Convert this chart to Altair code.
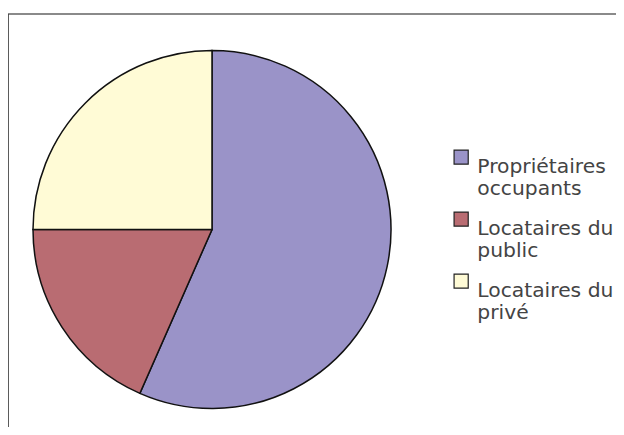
import altair as alt
import pandas as pd

categories = ["Propriétaires occupants", "Locataires du public", "Locataires du privé"]
label_lines = ["Propriétaires\noccupants", "Locataires du\npublic", "Locataires du\nprivé"]
shares = [56.6, 18.4, 25.0]
colors = ["#9A93C8", "#B96C72", "#FFFBD6"]

df = pd.DataFrame({
    "cat": categories,
    "share": shares,
    "idx": list(range(len(categories))),
})

label_map = "{" + ",".join(f"'{c}': '{l}'" for c, l in zip(categories, label_lines)).replace("\n", "\\n") + "}"

pie = alt.Chart(df).mark_arc(
    outerRadius=179, stroke="#111111", strokeWidth=1.5
).encode(
    theta=alt.Theta("share:Q", stack=True),
    order=alt.Order("idx:O"),
    color=alt.Color(
        "cat:N",
        scale=alt.Scale(domain=categories, range=colors),
        legend=alt.Legend(
            title=None,
            orient="none",
            legendX=443,
            legendY=139,
            symbolType="square",
            symbolSize=200,
            symbolStrokeColor="#222222",
            symbolStrokeWidth=1.2,
            labelFont="DejaVu Sans",
            labelFontSize=20.3,
            labelColor="#444444",
            labelLimit=300,
            labelOffset=6,
            labelBaseline="top",
            labelExpr=f"split({label_map}[datum.label], '\\n')",
            rowPadding=9,
        ),
    ),
    x=alt.value(204),
    y=alt.value(221.5),
)

top_rule = alt.Chart(df).mark_rule(color="#8a8a8a", strokeWidth=2).encode(
    x=alt.value(0), x2=alt.value(608), y=alt.value(6)
)
left_rule = alt.Chart(df).mark_rule(color="#444444", strokeWidth=1).encode(
    x=alt.value(0), y=alt.value(6), y2=alt.value(419)
)

chart = alt.layer(top_rule, left_rule, pie).properties(
    width=608, height=419, autosize=alt.AutoSizeParams(type="none"), padding=0
).configure_view(stroke=None)

chart.save("out.html", embed_options={"renderer": "svg", "actions": False})
